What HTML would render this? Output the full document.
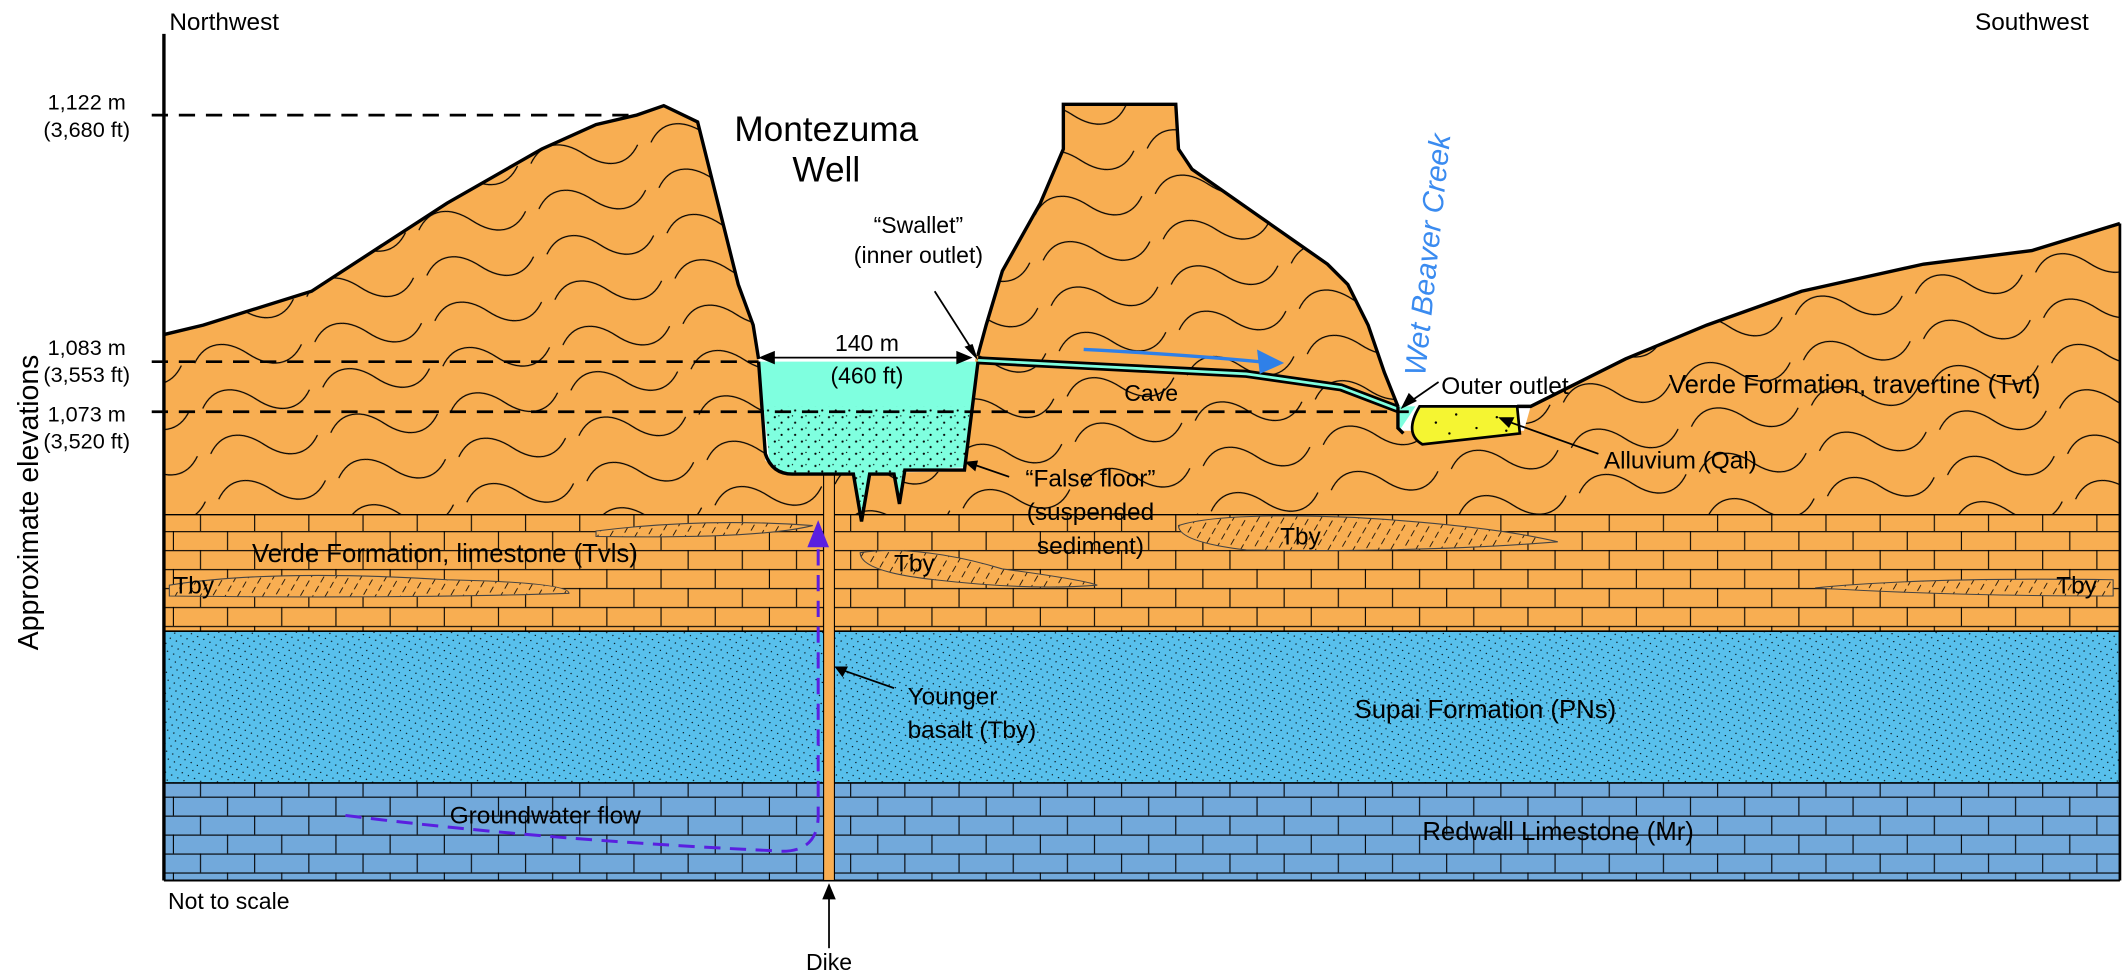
<!DOCTYPE html>
<html><head><meta charset="utf-8"><style>
html,body{margin:0;padding:0;background:#fff;}
svg{display:block;}
text{font-family:"Liberation Sans","DejaVu Sans",sans-serif;fill:#000;}
</style></head><body>
<svg width="2124" height="978" viewBox="0 0 1568 722" xmlns="http://www.w3.org/2000/svg">
<defs>
<pattern id="wave" width="90" height="34" patternUnits="userSpaceOnUse" patternTransform="rotate(-10)">
<path d="M5 17 C15 3,30 3,45 17 S75 31,85 17" fill="none" stroke="#000" stroke-width="0.9"/>
</pattern>
<pattern id="brick" width="40" height="28" patternUnits="userSpaceOnUse">
<rect width="40" height="28" fill="#F8AE52"/>
<path d="M0 0.5H40M0 14.5H40M8 0V14M28 14V28" stroke="#000" stroke-width="0.8" fill="none"/>
</pattern>
<pattern id="rbrick" width="40" height="28" patternUnits="userSpaceOnUse">
<rect width="40" height="28" fill="#72A9DB"/>
<path d="M0 0.5H40M0 14.5H40M8 0V14M28 14V28" stroke="#000" stroke-width="0.8" fill="none"/>
</pattern>
<pattern id="dots" width="8" height="6" patternUnits="userSpaceOnUse" patternTransform="rotate(-12)">
<rect width="8" height="6" fill="#58C0EC"/>
<circle cx="1" cy="1" r="0.5" fill="#000"/><circle cx="5" cy="4" r="0.5" fill="#000"/>
</pattern>
<pattern id="hatch" width="8" height="8" patternUnits="userSpaceOnUse" patternTransform="rotate(30)">
<rect width="8" height="8" fill="#F8AE52"/>
<path d="M4 1V6" stroke="#000" stroke-width="0.6"/>
</pattern>
<pattern id="sed" width="10" height="9" patternUnits="userSpaceOnUse">
<circle cx="2" cy="2" r="0.8" fill="#000"/><circle cx="7" cy="6" r="0.8" fill="#000"/><circle cx="5" cy="1" r="0.5" fill="#000"/>
</pattern>
</defs>

<path d="M121 247 L150 240 L230 215 L330 150 L400 110 L440 92 L470 85 L490 78 L515 90 L530 150 L545 210 L556 240 L560 265 L565 340 L578 350 L712 348 L720 265 L728 240 L740 200 L768 150 L785 110 L785 77 L868 77 L870 110 L880 125 L930 160 L980 195 L995 210 L1010 240 L1022 275 L1032 300 L1033 318 L1125 318 L1130 300 L1160 285 L1200 265 L1260 240 L1330 215 L1420 195 L1500 185 L1565 165 L1565 380 L121 380 Z" fill="#F8AE52"/>
<path d="M121 247 L150 240 L230 215 L330 150 L400 110 L440 92 L470 85 L490 78 L515 90 L530 150 L545 210 L556 240 L560 265 L565 340 L578 350 L712 348 L720 265 L728 240 L740 200 L768 150 L785 110 L785 77 L868 77 L870 110 L880 125 L930 160 L980 195 L995 210 L1010 240 L1022 275 L1032 300 L1033 318 L1125 318 L1130 300 L1160 285 L1200 265 L1260 240 L1330 215 L1420 195 L1500 185 L1565 165 L1565 380 L121 380 Z" fill="url(#wave)"/>
<path d="M121 247 L150 240 L230 215 L330 150 L400 110 L440 92 L470 85 L490 78 L515 90 L530 150 L545 210 L556 240 L560 265" fill="none" stroke="#000" stroke-width="2.5"/>
<path d="M722 262 L728 240 L740 200 L768 150 L785 110 L785 77 L868 77 L870 110 L880 125 L930 160 L980 195 L995 210 L1010 240 L1022 275 L1032 300" fill="none" stroke="#000" stroke-width="2.5"/>
<path d="M1120 300 L1130 300 L1160 285 L1200 265 L1260 240 L1330 215 L1420 195 L1500 185 L1565 165" fill="none" stroke="#000" stroke-width="2.5"/>

<rect x="121" y="380" width="1444" height="86" fill="url(#brick)"/>
<path d="M125 432 Q200 420 330 428 Q420 430 420 438 Q300 442 125 440Z" fill="url(#hatch)" stroke="#444" stroke-width="0.8"/>
<path d="M440 392 Q520 382 600 388 Q560 398 440 396Z" fill="url(#hatch)" stroke="#444" stroke-width="0.8"/>
<path d="M635 408 Q680 402 740 420 Q800 428 810 432 Q760 436 690 428 Q635 422 635 408Z" fill="url(#hatch)" stroke="#444" stroke-width="0.8"/>
<path d="M870 388 Q900 378 1000 382 Q1100 388 1150 400 Q1050 408 920 406 Q870 400 870 388Z" fill="url(#hatch)" stroke="#444" stroke-width="0.8"/>
<path d="M1340 434 Q1420 426 1560 428 L1560 440 Q1440 440 1340 434Z" fill="url(#hatch)" stroke="#444" stroke-width="0.8"/>
<line x1="121" y1="380" x2="1565" y2="380" stroke="#000" stroke-width="1"/>

<rect x="121" y="466" width="1444" height="112" fill="url(#dots)"/>
<line x1="121" y1="466" x2="1565" y2="466" stroke="#000" stroke-width="1.2"/>
<rect x="121" y="578" width="1444" height="72" fill="url(#rbrick)"/>
<line x1="121" y1="578" x2="1565" y2="578" stroke="#000" stroke-width="1.2"/>
<line x1="121" y1="650" x2="1565" y2="650" stroke="#000" stroke-width="1.5"/>

<rect x="608" y="350" width="8" height="300" fill="#F8AE52" stroke="#000" stroke-width="0.8"/>

<path d="M560 267 L722 267 L712 345 L668 347 L664 372 L660 350 L642 350 L636 385 L630 350 L578 350 L568 340 Z" fill="#7FFFDF"/>
<path d="M565 300 L718 300 L712 345 L668 347 L664 372 L660 350 L642 350 L636 385 L630 350 L578 350 L568 340 Z" fill="url(#sed)"/>
<path d="M560 267 L565 335 Q570 350 585 350 L630 350 L636 385 L642 350 L660 350 L664 372 L668 347 L712 347 L722 267" fill="none" stroke="#000" stroke-width="2.5"/>

<path d="M722 266 L800 270 L920 276 L990 286 L1032 302" fill="none" stroke="#000" stroke-width="6"/>
<path d="M722 266 L800 270 L920 276 L990 286 L1032 302" fill="none" stroke="#7FFFDF" stroke-width="2"/>
<path d="M1032 300 L1045 300 L1033 318 Z" fill="#7FFFDF"/>
<path d="M1032 300 L1032 316 L1036 320" fill="none" stroke="#000" stroke-width="2.5"/>
<path d="M1048 300 L1120 300 L1122 320 L1050 328 Q1036 320 1048 300Z" fill="#F5F532" stroke="#000" stroke-width="2"/>
<g fill="#000"><circle cx="1060" cy="312" r="0.9"/><circle cx="1075" cy="306" r="0.9"/><circle cx="1090" cy="316" r="0.9"/><circle cx="1105" cy="308" r="0.9"/><circle cx="1070" cy="320" r="0.9"/><circle cx="1112" cy="318" r="0.9"/></g>

<g stroke="#000" stroke-width="2" stroke-dasharray="12 8" fill="none">
<line x1="112" y1="85" x2="470" y2="85"/>
<line x1="112" y1="267" x2="560" y2="267"/>
<line x1="112" y1="304" x2="1040" y2="304"/>
</g>
<line x1="121" y1="25" x2="121" y2="650" stroke="#000" stroke-width="2.5"/>
<line x1="1565" y1="165" x2="1565" y2="650" stroke="#000" stroke-width="2"/>

<path d="M800 258 Q880 262 940 268" fill="none" stroke="#2F80E8" stroke-width="2.5"/>
<path d="M948 268 L928 258 L930 276 Z" fill="#2F80E8"/>
<path d="M255 602 Q400 620 570 628 Q605 632 604 600 L604 400" fill="none" stroke="#5A1FE0" stroke-width="2.2" stroke-dasharray="12 7"/>
<path d="M604 384 L596 404 L612 404 Z" fill="#5A1FE0"/>

<g stroke="#000" stroke-width="1.3" fill="none">
<line x1="566" y1="264" x2="712" y2="264"/>
<line x1="690" y1="215" x2="720" y2="262"/>
<line x1="1062" y1="282" x2="1036" y2="300"/>
<line x1="1180" y1="335" x2="1110" y2="310"/>
<line x1="745" y1="352" x2="716" y2="342"/>
<line x1="612" y1="700" x2="612" y2="655"/>
<line x1="660" y1="508" x2="620" y2="494"/>
</g>
<g fill="#000">
<path d="M560 264 L572 259 L572 269Z"/><path d="M718 264 L706 259 L706 269Z"/>
<path d="M722 266 L712 256 L718 254Z"/>
<path d="M1034 302 L1040 290 L1046 296Z"/>
<path d="M1106 308 L1118 308 L1114 316Z"/>
<path d="M712 341 L722 340 L720 348Z"/>
<path d="M612 652 L607 664 L617 664Z"/>
<path d="M616 492 L626 492 L622 500Z"/>
</g>

<text x="125" y="22" font-size="18">Northwest</text>
<text x="1458" y="22" font-size="18">Southwest</text>
<text x="64" y="81" font-size="16" text-anchor="middle">1,122 m</text>
<text x="64" y="101" font-size="16" text-anchor="middle">(3,680 ft)</text>
<text x="64" y="262" font-size="16" text-anchor="middle">1,083 m</text>
<text x="64" y="282" font-size="16" text-anchor="middle">(3,553 ft)</text>
<text x="64" y="311" font-size="16" text-anchor="middle">1,073 m</text>
<text x="64" y="331" font-size="16" text-anchor="middle">(3,520 ft)</text>
<text transform="translate(28,480) rotate(-90)" font-size="21">Approximate elevations</text>
<text x="610" y="104" font-size="26" text-anchor="middle">Montezuma</text>
<text x="610" y="134" font-size="26" text-anchor="middle">Well</text>
<text x="678" y="172" font-size="17" text-anchor="middle">“Swallet”</text>
<text x="678" y="194" font-size="17" text-anchor="middle">(inner outlet)</text>
<text x="640" y="259" font-size="17" text-anchor="middle">140 m</text>
<text x="640" y="283" font-size="17" text-anchor="middle">(460 ft)</text>
<text x="830" y="296" font-size="17">Cave</text>
<text transform="translate(1052,278) rotate(-84)" font-size="22" font-style="italic" style="fill:#3A8BF0">Wet Beaver Creek</text>
<text x="1064" y="291" font-size="18">Outer outlet</text>
<text x="1232" y="290" font-size="19">Verde Formation, travertine (Tvt)</text>
<text x="1184" y="346" font-size="18">Alluvium (Qal)</text>
<text x="805" y="359" font-size="18" text-anchor="middle">“False floor”</text>
<text x="805" y="384" font-size="18" text-anchor="middle">(suspended</text>
<text x="805" y="409" font-size="18" text-anchor="middle">sediment)</text>
<text x="186" y="415" font-size="19">Verde Formation, limestone (Tvls)</text>
<text x="128" y="438" font-size="18">Tby</text>
<text x="660" y="422" font-size="18">Tby</text>
<text x="945" y="402" font-size="18">Tby</text>
<text x="1518" y="438" font-size="18">Tby</text>
<text x="670" y="520" font-size="18">Younger</text>
<text x="670" y="545" font-size="18">basalt (Tby)</text>
<text x="1000" y="530" font-size="19">Supai Formation (PNs)</text>
<text x="332" y="608" font-size="18">Groundwater flow</text>
<text x="1050" y="620" font-size="19">Redwall Limestone (Mr)</text>
<text x="124" y="671" font-size="17">Not to scale</text>
<text x="612" y="716" font-size="17" text-anchor="middle">Dike</text>
</svg>
</body></html>
